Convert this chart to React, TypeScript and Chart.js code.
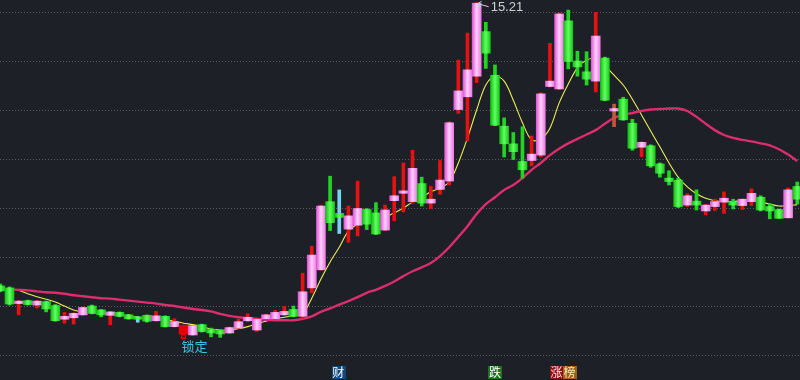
import React, { useEffect, useRef } from "react";
import { Chart, registerables } from "chart.js";

Chart.register(...registerables);

// ---------- data ----------
const opens = [
  9.43, 9.39, 9.07, 9.13, 9.04, 9.11, 9.03, 8.75, 8.78, 8.84,
  9.02, 8.94, 8.83, 8.89, 8.84, 8.80, 8.83, 8.72, 8.81, 8.60,
  8.63, 8.43, 8.64, 8.54, 8.52, 8.47, 8.57, 8.72, 8.53, 8.76,
  8.76, 8.84, 8.95, 8.81, 9.39, 9.76, 11.15, 10.91, 10.59, 10.67,
  10.99, 10.92, 10.57, 11.17, 11.32, 11.15, 11.52, 11.12, 11.40, 11.57,
  13.03, 13.29, 13.71, 14.62, 13.73, 12.69, 12.33, 11.97, 11.99, 12.10,
  13.50, 13.45, 14.84, 14.02, 13.80, 13.61, 14.08, 13.00, 13.24, 12.75,
  12.26, 12.29, 11.92, 11.63, 11.59, 11.08, 11.16, 10.96, 11.05, 11.14,
  11.14, 11.07, 11.15, 11.24, 11.05, 10.99, 10.82, 11.46,
];
const highs = [
  9.47, 9.41, 9.13, 9.14, 9.13, 9.12, 9.05, 8.89, 8.88, 9.00,
  9.04, 8.95, 8.91, 8.90, 8.85, 8.80, 8.84, 8.91, 8.82, 8.76,
  8.63, 8.62, 8.65, 8.57, 8.53, 8.59, 8.75, 8.86, 8.76, 8.85,
  8.93, 9.01, 9.02, 9.69, 10.24, 11.08, 11.67, 11.39, 11.06, 11.57,
  11.01, 11.13, 11.08, 11.66, 11.94, 12.20, 11.65, 11.46, 11.99, 12.78,
  14.04, 14.59, 15.21, 14.81, 13.94, 12.86, 12.56, 12.68, 12.49, 13.37,
  14.38, 15.00, 15.06, 14.22, 14.21, 15.01, 14.10, 13.14, 13.28, 12.83,
  12.37, 12.31, 11.94, 11.78, 11.63, 11.31, 11.39, 11.09, 11.20, 11.35,
  11.20, 11.20, 11.41, 11.27, 11.10, 11.00, 11.43, 11.55,
];
const lows = [
  9.31, 9.04, 8.84, 9.04, 8.98, 8.90, 8.71, 8.67, 8.65, 8.83,
  8.86, 8.80, 8.64, 8.80, 8.75, 8.69, 8.69, 8.71, 8.59, 8.59,
  8.35, 8.42, 8.49, 8.39, 8.38, 8.46, 8.56, 8.70, 8.50, 8.75,
  8.75, 8.83, 8.80, 8.77, 9.29, 9.75, 10.56, 10.50, 10.32, 10.45,
  10.58, 10.48, 10.56, 10.76, 10.94, 11.12, 11.06, 11.01, 11.30, 11.49,
  12.95, 12.39, 13.58, 13.87, 12.70, 12.06, 12.01, 11.63, 11.88, 12.06,
  13.49, 13.44, 13.86, 13.71, 13.53, 13.39, 13.21, 12.68, 12.81, 12.20,
  12.07, 11.85, 11.65, 11.49, 11.03, 11.05, 10.98, 10.88, 10.97, 10.91,
  11.00, 10.99, 11.07, 10.96, 10.80, 10.81, 10.82, 11.10,
];
const closes = [
  9.33, 9.06, 9.12, 9.05, 9.12, 8.96, 8.72, 8.81, 8.87, 8.99,
  8.87, 8.84, 8.90, 8.81, 8.76, 8.75, 8.71, 8.82, 8.60, 8.70,
  8.45, 8.62, 8.50, 8.47, 8.45, 8.58, 8.70, 8.79, 8.75, 8.84,
  8.89, 8.91, 8.81, 9.31, 10.06, 11.06, 10.72, 10.83, 10.86, 11.01,
  10.69, 10.49, 10.98, 11.27, 11.37, 11.83, 11.12, 11.20, 11.59, 12.76,
  13.41, 13.84, 15.20, 14.18, 12.71, 12.33, 12.17, 11.80, 12.12, 13.35,
  13.61, 14.98, 14.01, 13.90, 13.65, 14.53, 13.22, 13.05, 12.82, 12.24,
  12.36, 11.88, 11.73, 11.56, 11.05, 11.27, 11.08, 11.08, 11.15, 11.22,
  11.08, 11.20, 11.32, 10.98, 10.96, 10.81, 11.39, 11.20,
];
const maShort = [
  null, null, 9.34, 9.27, 9.21, 9.16, 9.10, 9.02, 8.94, 8.90,
  8.88, 8.88, 8.87, 8.85, 8.82, 8.79, 8.78, 8.76, 8.73, 8.71,
  8.67, 8.64, 8.60, 8.55, 8.53, 8.53, 8.56, 8.60, 8.66, 8.71,
  8.76, 8.79, 8.82, 8.86, 9.18, 9.57, 9.92, 10.22, 10.55, 10.69,
  10.76, 10.80, 10.84, 10.92, 11.02, 11.14, 11.24, 11.35, 11.43, 11.55,
  11.94, 12.45, 13.02, 13.53, 13.71, 13.61, 13.22, 12.76, 12.41, 12.43,
  12.65, 13.16, 13.55, 13.88, 14.04, 14.06, 13.92, 13.73, 13.53, 13.24,
  12.92, 12.59, 12.27, 11.94, 11.65, 11.45, 11.31, 11.22, 11.17, 11.15,
  11.15, 11.17, 11.17, 11.14, 11.10, 11.06, 11.07, 11.09,
];
const maLong = [
  9.37, 9.36, 9.35, 9.34, 9.32, 9.30, 9.29, 9.27, 9.24, 9.22,
  9.20, 9.18, 9.17, 9.15, 9.13, 9.11, 9.09, 9.07, 9.04, 9.02,
  8.99, 8.96, 8.94, 8.91, 8.86, 8.82, 8.79, 8.77, 8.76, 8.74,
  8.73, 8.73, 8.73, 8.76, 8.81, 8.90, 8.97, 9.05, 9.12, 9.20,
  9.29, 9.35, 9.43, 9.52, 9.63, 9.73, 9.81, 9.90, 10.04, 10.22,
  10.43, 10.65, 10.90, 11.10, 11.24, 11.39, 11.49, 11.63, 11.80, 11.94,
  12.10, 12.23, 12.34, 12.43, 12.52, 12.61, 12.74, 12.86, 12.92, 12.96,
  13.00, 13.03, 13.04, 13.05, 13.05, 13.00, 12.88, 12.74, 12.61, 12.51,
  12.45, 12.41, 12.38, 12.34, 12.30, 12.22, 12.11, 11.98,
];
const peakText = "15.21";
const lockText = "锁定";
const lockIndex = 20;
const tagTexts = ["财", "跌", "涨榜"];
const tagIndices = [37, 54, 61];
const specialWickIndices = [15, 37];
const dimWickIndices = [67];

// ---------- view settings ----------
const Y_MIN = 7.5102;
const Y_MAX = 15.2653;
const X_MIN = -0.037;
const X_MAX = 87.3;
const BG = "#1d2026";
const GRID = "#5a5e66";
const BODY_W = 9;
const WICK_W = 3;
const UP_STOPS: [number, string][] = [[0, "#e257d6"], [0.5, "#ffd0fb"], [1, "#ee7ae4"]];
const DOWN_STOPS: [number, string][] = [[0, "#10c010"], [0.5, "#62ff62"], [1, "#16c816"]];
const UP_WICK = "#e41212";
const DOWN_WICK = "#22d422";
const CYAN_WICK = "#74d6ee";
const DIM_WICK = "#c0583c";
const LOCK_RED = "#e80000";
const TAG_STYLES = [
  { dx: -1, bg: ["#11487a"], fg: ["#ffffff"] },
  { dx: 0, bg: ["#137a16"], fg: ["#ffffff"] },
  { dx: 4, bg: ["#861414", "#a05c1c"], fg: ["#ffe0e0", "#ffe8b8"] },
];

function bodyColor(c: any) {
  const i = c.dataIndex;
  if (i === lockIndex) return LOCK_RED;
  const up = closes[i] >= opens[i];
  const flat = up ? "#ffaaf5" : "#33ee33";
  const chart = c.chart;
  const xs = chart && chart.scales && chart.scales.x;
  if (!xs || c.type !== "data" || !chart.chartArea) return flat;
  const cx = xs.getPixelForValue(i);
  if (!Number.isFinite(cx)) return flat;
  const g = chart.ctx.createLinearGradient(cx - BODY_W / 2, 0, cx + BODY_W / 2, 0);
  (up ? UP_STOPS : DOWN_STOPS).forEach(([o, col]) => g.addColorStop(o, col));
  return g;
}

function wickColor(c: any) {
  const i = c.dataIndex;
  if (i === lockIndex) return "rgba(0,0,0,0)";
  if (specialWickIndices.includes(i)) return CYAN_WICK;
  if (dimWickIndices.includes(i)) return DIM_WICK;
  return closes[i] >= opens[i] ? UP_WICK : DOWN_WICK;
}

const overlay = {
  id: "overlay",
  beforeDraw(chart: any) {
    const ctx = chart.ctx;
    ctx.save();
    ctx.fillStyle = BG;
    ctx.fillRect(0, 0, chart.width, chart.height);
    ctx.restore();
  },
  afterDraw(chart: any) {
    const ctx = chart.ctx;
    const xs = chart.scales.x;
    const ys = chart.scales.y;
    ctx.save();
    // peak label
    const pi = highs.indexOf(Math.max(...highs));
    const px = xs.getPixelForValue(pi);
    const py = ys.getPixelForValue(highs[pi]);
    ctx.strokeStyle = "#cfcfcf";
    ctx.lineWidth = 1;
    ctx.beginPath();
    ctx.moveTo(px + 1, py + 1);
    ctx.lineTo(px + 12, py + 4);
    ctx.moveTo(px + 1, py + 1);
    ctx.lineTo(px + 5, py - 1.5);
    ctx.moveTo(px + 1, py + 1);
    ctx.lineTo(px + 4, py + 4.5);
    ctx.stroke();
    ctx.fillStyle = "#d2d2d2";
    ctx.font = '13px "Liberation Sans", Arial, sans-serif';
    ctx.textBaseline = "middle";
    ctx.textAlign = "left";
    ctx.fillText(peakText, px + 14, py + 5);

    // lock label
    ctx.font = '13px "Noto Sans CJK SC", sans-serif';
    ctx.fillStyle = "#3cc6e2";
    ctx.fillText(lockText, xs.getPixelForValue(lockIndex) - 2, 346);

    // bottom tags
    ctx.font = '12px "Noto Sans CJK SC", sans-serif';
    tagTexts.forEach((t, k) => {
      const st = TAG_STYLES[k];
      const chars = Array.from(t);
      const widths = chars.map((ch) => ctx.measureText(ch).width + 1);
      const total = widths.reduce((a, b) => a + b, 0);
      let left = xs.getPixelForValue(tagIndices[k]) + st.dx - total / 2;
      chars.forEach((ch, j) => {
        ctx.fillStyle = st.bg[Math.min(j, st.bg.length - 1)];
        ctx.fillRect(Math.round(left), 366, Math.ceil(widths[j]), 13);
        ctx.fillStyle = st.fg[Math.min(j, st.fg.length - 1)];
        ctx.textAlign = "center";
        ctx.fillText(ch, left + widths[j] / 2, 372.5);
        left += widths[j];
      });
    });
    ctx.restore();
  },
};

export default function App() {
  const ref = useRef<HTMLCanvasElement | null>(null);
  useEffect(() => {
    document.body.style.margin = "0";
    document.body.style.background = BG;
    const canvas = ref.current;
    if (!canvas) return;
    const idx = opens.map((_, i) => i);
    const chart = new Chart(canvas, {
      type: "bar",
      data: {
        datasets: [
          {
            type: "line",
            data: idx.map((i) => ({ x: i, y: maShort[i] })),
            borderColor: "#eeee55",
            borderWidth: 1.1,
            pointRadius: 0,
            tension: 0.35,
            order: 5,
          } as any,
          {
            type: "line",
            data: idx.map((i) => ({ x: i, y: maLong[i] })),
            borderColor: "#dc2d6c",
            borderWidth: 2.4,
            pointRadius: 0,
            tension: 0.35,
            order: 4,
          } as any,
          {
            type: "bar",
            data: idx.map((i) => ({ x: i, y: [lows[i], highs[i]] })),
            backgroundColor: wickColor,
            barThickness: WICK_W,
            grouped: false,
            borderWidth: 0,
            order: 3,
          } as any,
          {
            type: "bar",
            data: [lockIndex].map((i) => ({ x: i, y: [lows[i], Math.min(opens[i], closes[i])] })),
            backgroundColor: "rgba(0,0,0,0)",
            borderColor: LOCK_RED,
            borderWidth: 1,
            borderSkipped: false,
            barThickness: 5,
            grouped: false,
            order: 2,
          } as any,
          {
            type: "bar",
            data: idx.map((i) => ({ x: i, y: [opens[i], closes[i]] })),
            backgroundColor: bodyColor,
            barThickness: BODY_W,
            grouped: false,
            borderWidth: 0,
            minBarLength: 1,
            order: 1,
          } as any,
        ],
      },
      options: {
        animation: false,
        responsive: false,
        maintainAspectRatio: false,
        layout: { padding: 0 },
        plugins: { legend: { display: false }, tooltip: { enabled: false }, title: { display: false } },
        scales: {
          x: { type: "linear", min: X_MIN, max: X_MAX, display: false, offset: false },
          y: {
            type: "linear",
            min: Y_MIN,
            max: Y_MAX,
            position: "left",
            ticks: { display: false, stepSize: 1, includeBounds: false },
            grid: { color: GRID, drawTicks: false, lineWidth: 1 },
            border: { display: false, dash: [1, 2] },
            afterFit: (s: any) => {
              s.width = 0;
            },
          } as any,
        },
      },
      plugins: [overlay],
    });
    return () => chart.destroy();
  }, []);
  return (
    <div style={{ position: "fixed", left: 0, top: 0, width: 800, height: 380, background: BG }}>
      <canvas ref={ref} width={800} height={380} style={{ display: "block" }} />
    </div>
  );
}
